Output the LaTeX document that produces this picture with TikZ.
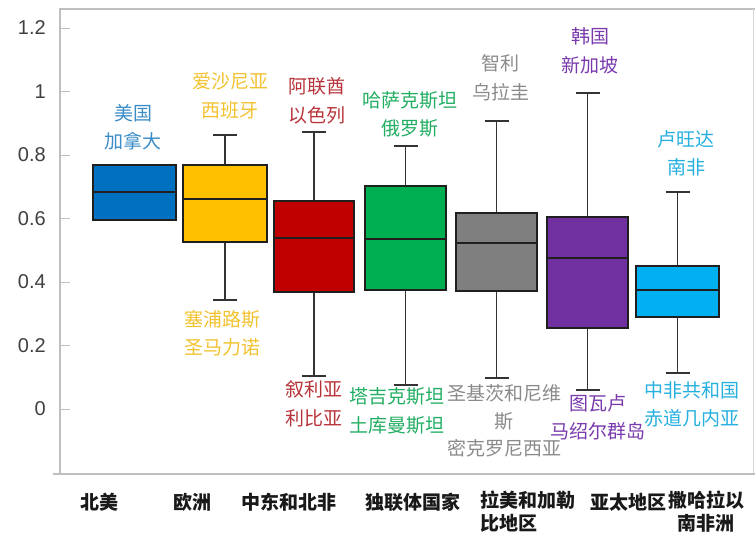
\documentclass[tikz,border=0pt]{standalone}
\usepackage{fontspec}
\setmainfont{Liberation Sans}
\newfontfamily\cjk{Noto Sans CJK SC}
\definecolor{cBlue}{HTML}{0070C0}
\definecolor{cYel}{HTML}{FFC000}
\definecolor{cRed}{HTML}{C00000}
\definecolor{cGrn}{HTML}{00B050}
\definecolor{cGry}{HTML}{7F7F7F}
\definecolor{cPur}{HTML}{7030A0}
\definecolor{cSky}{HTML}{00B0F0}
\definecolor{lBlue}{HTML}{3A8CC8}
\definecolor{lYel}{HTML}{F2C230}
\definecolor{lRed}{HTML}{B8343A}
\definecolor{lGrn}{HTML}{22AE62}
\definecolor{lGry}{HTML}{8A8A8A}
\definecolor{lPur}{HTML}{7A3AAE}
\definecolor{lSky}{HTML}{25B0E0}
\definecolor{axisc}{HTML}{BFBFBF}
\definecolor{tickc}{HTML}{404040}
\newcommand\mybxp[8]{% cx, halfwidth, hi, q3, med, q1, lo, colour
  \draw[whisk] (#1,#3) -- (#1,#4);
  \draw[whisk] (#1,#6) -- (#1,#7);
  \draw[whisk] ({#1-12},#3) -- ({#1+12},#3);
  \draw[whisk] ({#1-12},#7) -- ({#1+12},#7);
  \draw[boxl,fill=#8] ({#1-#2},#4) rectangle ({#1+#2},#6);
  \draw[boxl] ({#1-#2},#5) -- ({#1+#2},#5);
}
\tikzset{
  whisk/.style={line width=1.8pt,draw=black!80},
  boxl/.style={line width=1.8pt,draw=black!88},
  lab/.style={font=\cjk\fontsize{19}{28.5}\selectfont,align=center,inner sep=0pt},
  cat/.style={font=\cjk\bfseries\fontsize{19}{23}\selectfont,text=black!90,inner sep=0pt},
  tlab/.style={font=\fontsize{20}{22}\selectfont,text=tickc,anchor=east,inner sep=0pt},
}
\begin{document}
\begin{tikzpicture}[x=1pt,y=-1pt]
\useasboundingbox (0,0) rectangle (755,537);
\fill[white] (0,0) rectangle (755,537);
% frame
\draw[axisc,line width=1.4pt] (60,9) -- (755,9);
\draw[axisc!60,line width=1pt] (753.5,9) -- (753.5,474);
\draw[axisc,line width=2.6pt] (53,474) -- (755,474);
\draw[axisc,line width=2.8pt] (60,8.3) -- (60,475);
% ticks and labels
\foreach \v/\yy in {0/409,0.2/345.5,0.4/282,0.6/218.5,0.8/155,1/91.5,1.2/28}{
  \draw[axisc,line width=0.9pt] (60,\yy) -- (70,\yy);
  \node[tlab] (t\v) at (46,\yy) {\v};
}
% boxes
\draw[boxl,fill=cBlue] (93,165) rectangle (176,220);
\draw[boxl] (93,192) -- (176,192);
\mybxp{225}{42}{135}{165}{199}{242}{300}{cYel}
\mybxp{314}{40}{132}{201}{238}{292}{376}{cRed}
\mybxp{405.5}{40.5}{146}{186}{239}{290}{385}{cGrn}
\mybxp{496.5}{40.5}{121}{213}{243}{291}{378}{cGry}
\mybxp{587.5}{40.5}{93}{217}{258}{328}{390}{cPur}
\mybxp{677.5}{41.5}{192}{266}{290}{317}{373}{cSky}
% upper labels
\node[lab,text=lBlue] (u1) at (133,127.5) {美国\\加拿大};
\node[lab,text=lYel] (u2) at (230,96) {爱沙尼亚\\西班牙};
\node[lab,text=lRed] (u3) at (317,101) {阿联酋\\以色列};
\node[lab,text=lGrn] (u4) at (410,114.5) {哈萨克斯坦\\俄罗斯};
\node[lab,text=lGry] (u5) at (500.5,77.5) {智利\\乌拉圭};
\node[lab,text=lPur] (u6) at (590,51) {韩国\\新加坡};
\node[lab,text=lSky] (u7) at (686,153.5) {卢旺达\\南非};
% lower labels
\node[lab,text=lYel] (d2) at (222.5,333.5) {塞浦路斯\\圣马力诺};
\node[lab,text=lRed] (d3) at (314,404) {叙利亚\\利比亚};
\node[lab,text=lGrn] (d4) at (397,411) {塔吉克斯坦\\土库曼斯坦};
\node[lab,text=lGry,font=\cjk\fontsize{19}{27.5}\selectfont] (d5) at (504,421) {圣基茨和尼维\\斯\\密克罗尼西亚};
\node[lab,text=lPur] (d6) at (598,417.5) {图瓦卢\\马绍尔群岛};
\node[lab,text=lSky] (d7) at (691.5,404.5) {中非共和国\\赤道几内亚};
% categories
\node[cat] (c1) at (99,502) {北美};
\node[cat] (c2) at (192.5,502) {欧洲};
\node[cat] (c3) at (289,502) {中东和北非};
\node[cat] (c4) at (412.5,502) {独联体国家};
\node[cat,align=left,anchor=north west] (c5) at (480,491) {拉美和加勒\\比地区};
\node[cat] (c6) at (628.5,502) {亚太地区};
\node[cat,align=center,anchor=north] (c7) at (706,491) {撒哈拉以\\南非洲};
\end{tikzpicture}
\end{document}
